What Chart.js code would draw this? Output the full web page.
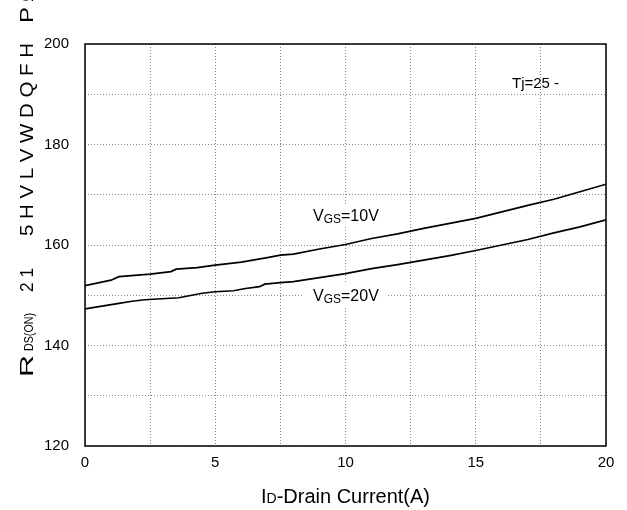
<!DOCTYPE html>
<html>
<head>
<meta charset="utf-8">
<script src="https://cdn.jsdelivr.net/npm/chart.js@4.4.1/dist/chart.umd.min.js"></script>
<style>
  html, body { margin: 0; padding: 0; background: #fff; }
  #wrap { width: 627px; height: 510px; position: relative; }
</style>
</head>
<body>
<div id="wrap"><canvas id="c" width="627" height="510"></canvas></div>
<script>
// Data
const xs10 = [0, 1, 1.3, 2.5, 3.3, 3.5, 4.3, 5, 6, 7, 7.5, 8, 9, 10, 11, 12, 13, 14, 15, 16, 17, 18, 19, 20];
const ys10 = [151.9, 153.0, 153.7, 154.2, 154.7, 155.2, 155.5, 156.0, 156.6, 157.5, 158.0, 158.2, 159.2, 160.1, 161.3, 162.2, 163.3, 164.3, 165.3, 166.6, 167.9, 169.1, 170.6, 172.1];
const xs20 = [0, 1.3, 1.8, 2.3, 3.6, 4.5, 5, 5.7, 6.1, 6.7, 6.9, 7.5, 8, 9, 10, 11, 12, 13, 14, 15, 16, 17, 18, 19, 20];
const ys20 = [147.3, 148.4, 148.8, 149.1, 149.5, 150.4, 150.7, 150.9, 151.3, 151.7, 152.2, 152.5, 152.7, 153.5, 154.3, 155.3, 156.1, 157.0, 157.9, 158.9, 160.0, 161.1, 162.4, 163.6, 165.0];
const xTickLabels = [0, 5, 10, 15, 20];
const yTickLabels = [120, 140, 160, 180, 200];
const seriesLabels = ['10V', '20V'];

const FONT = "'Liberation Sans', Arial, sans-serif";

function pts(xs, ys) { return xs.map((x, i) => ({ x: x, y: ys[i] })); }

const overlay = {
  id: 'overlay',
  afterDraw(chart) {
    const ctx = chart.ctx;
    const a = chart.chartArea;
    ctx.save();
    // frame
    ctx.strokeStyle = '#000';
    ctx.lineWidth = 1.5;
    ctx.setLineDash([]);
    ctx.strokeRect(a.left, a.top, a.right - a.left, a.bottom - a.top);

    ctx.fillStyle = '#000';
    ctx.textBaseline = 'alphabetic';
    ctx.textAlign = 'left';

    // series labels with white boxes
    function vgs(x, y, suffix) {
      ctx.font = '16px ' + FONT;
      const wV = ctx.measureText('V').width;
      ctx.font = '12px ' + FONT;
      const wGS = ctx.measureText('GS').width;
      ctx.font = '16px ' + FONT;
      const wR = ctx.measureText('=' + suffix).width;
      const total = wV + wGS + wR;
      ctx.fillStyle = '#fff';
      ctx.fillRect(x - 10, y - 17, total + 18, 23);
      ctx.fillStyle = '#000';
      ctx.font = '16px ' + FONT;
      ctx.fillText('V', x, y);
      ctx.font = '12px ' + FONT;
      ctx.fillText('GS', x + wV, y + 2);
      ctx.font = '16px ' + FONT;
      ctx.fillText('=' + suffix, x + wV + wGS, y);
    }
    vgs(313, 221, seriesLabels[0]);
    vgs(313, 301, seriesLabels[1]);

    // Tj label
    ctx.font = '15px ' + FONT;
    ctx.fillText('Tj=25 -', 512, 88);

    // x title
    ctx.font = '20px ' + FONT;
    const wI = ctx.measureText('I').width;
    const wRest = ctx.measureText('-Drain Current(A)').width;
    ctx.font = '14px ' + FONT;
    const wD = ctx.measureText('D').width;
    const tw = wI + wD + wRest;
    let tx = (a.left + a.right) / 2 - tw / 2;
    ctx.font = '20px ' + FONT;
    ctx.fillText('I', tx, 503);
    ctx.font = '14px ' + FONT;
    ctx.fillText('D', tx + wI, 503);
    ctx.font = '20px ' + FONT;
    ctx.fillText('-Drain Current(A)', tx + wI + wD, 503);

    // y title (rotated), segments fitted along the axis
    function seg(text, yBottom, yTop, size, baseX) {
      ctx.save();
      ctx.translate(baseX, yBottom);
      ctx.rotate(-Math.PI / 2);
      ctx.font = size + 'px ' + FONT;
      const w = ctx.measureText(text).width;
      ctx.scale((yBottom - yTop) / w, 1);
      ctx.fillText(text, 0, 0);
      ctx.restore();
    }
    seg('R', 377, 355, 19, 33);
    seg('DS(ON)', 351, 313, 13, 33);
    seg('2 1', 292, 268, 19, 33);
    seg('5 H V L V W D Q F H', 236, 43, 19, 33);
    seg('P', 23, 7, 19, 33);
    seg('Ω', 2, -14, 19, 33);
    ctx.restore();
  }
};

new Chart(document.getElementById('c'), {
  type: 'line',
  data: {
    datasets: [
      { label: 'VGS=10V', data: pts(xs10, ys10), borderColor: '#000', borderWidth: 1.7, pointRadius: 0, tension: 0, fill: false },
      { label: 'VGS=20V', data: pts(xs20, ys20), borderColor: '#000', borderWidth: 1.7, pointRadius: 0, tension: 0, fill: false }
    ]
  },
  options: {
    responsive: false,
    animation: false,
    devicePixelRatio: 1,
    layout: { padding: { top: 44, right: 21, left: 0, bottom: 0 } },
    plugins: { legend: { display: false }, tooltip: { enabled: false } },
    scales: {
      x: {
        type: 'linear', min: 0, max: 20,
        afterFit(s) { s.height = 64; },
        afterBuildTicks(s) { s.ticks = []; for (let v = 0; v <= 20; v += 2.5) s.ticks.push({ value: v }); },
        ticks: {
          autoSkip: false, maxRotation: 0, padding: 8, color: '#000',
          font: { family: FONT, size: 15 },
          callback: v => xTickLabels.includes(v) ? String(v) : ''
        },
        grid: { color: '#8a8a8a', lineWidth: 1, drawTicks: false },
        border: { display: false, dash: [1, 2] }
      },
      y: {
        type: 'linear', min: 120, max: 200,
        afterFit(s) { s.width = 85; },
        afterBuildTicks(s) { s.ticks = []; for (let v = 120; v <= 200; v += 10) s.ticks.push({ value: v }); },
        ticks: {
          autoSkip: false, padding: 16, color: '#000',
          font: { family: FONT, size: 15 },
          callback: v => yTickLabels.includes(v) ? String(v) : ''
        },
        grid: { color: '#8a8a8a', lineWidth: 1, drawTicks: false },
        border: { display: false, dash: [1, 2] }
      }
    }
  },
  plugins: [overlay]
});
</script>
</body>
</html>
